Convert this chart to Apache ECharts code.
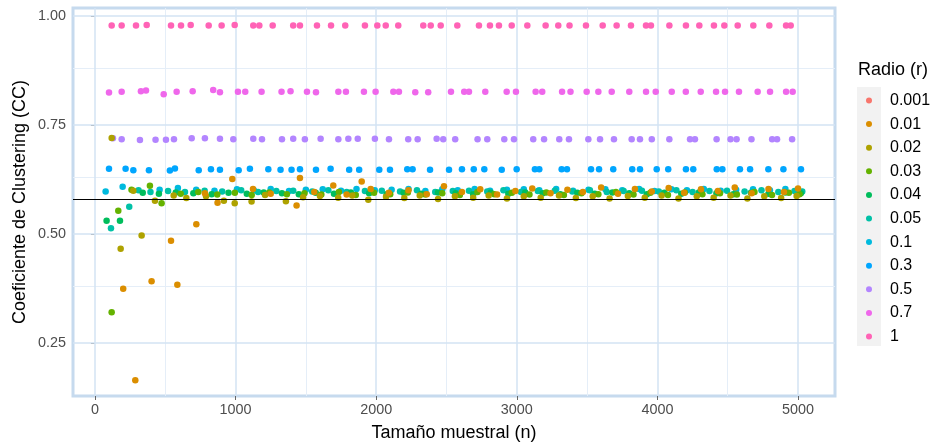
<!DOCTYPE html>
<html>
<head>
<meta charset="utf-8">
<script src="https://cdn.jsdelivr.net/npm/echarts@6/dist/echarts.min.js"></script>
<style>
html,body{margin:0;padding:0;background:#fff;}
#chart{width:935px;height:443px;}
</style>
</head>
<body>
<div id="chart"></div>
<script>
// ---- data ----
var radios = ['0.001','0.01','0.02','0.03','0.04','0.05','0.1','0.3','0.5','0.7','1'];
var colors = ['#F8766D','#DB8E00','#AEA200','#64B200','#00BD5C','#00C1A7','#00BADE','#00A6FF','#B385FF','#EF67EB','#FF63B6'];
var xTicks = [0,1000,2000,3000,4000,5000];
var yTicks = [0.25,0.5,0.75,1.0];
var xMinor = [500,1500,2500,3500,4500];
var yMinor = [0.375,0.625,0.875];
var refLine = 0.585;

var r0001 = [];
var r001 = [[201,0.374],[287,0.164],[403,0.391],[541,0.484],[586,0.383],[721,0.522],[782,0.593],[872,0.571],[977,0.626],[1124,0.603],[1250,0.592],[1434,0.565],[1458,0.628],[1560,0.596],[1695,0.611],[1790,0.590],[1897,0.620],[1961,0.603],[2090,0.594],[2230,0.600],[2360,0.591],[2482,0.609],[2610,0.596],[2740,0.602],[2860,0.590],[2990,0.598],[3110,0.604],[3240,0.593],[3360,0.601],[3470,0.596],[3600,0.606],[3720,0.592],[3840,0.603],[3960,0.597],[4080,0.605],[4190,0.594],[4310,0.602],[4430,0.598],[4550,0.606],[4670,0.593],[4790,0.603],[4900,0.596],[5000,0.604]];
var r002 = [[119,0.720],[183,0.466],[273,0.599],[332,0.496],[427,0.576],[560,0.588],[650,0.582],[790,0.586],[917,0.576],[994,0.570],[1114,0.574],[1210,0.589],[1358,0.575],[1480,0.584],[1600,0.587],[1730,0.583],[1830,0.588],[1944,0.578],[2070,0.585],[2200,0.582],[2310,0.588],[2440,0.580],[2560,0.586],[2690,0.583],[2800,0.588],[2930,0.581],[3050,0.586],[3170,0.583],[3300,0.588],[3420,0.582],[3540,0.586],[3660,0.581],[3790,0.587],[3910,0.583],[4030,0.588],[4150,0.581],[4280,0.586],[4400,0.583],[4520,0.588],[4640,0.581],[4760,0.586],[4880,0.582],[4990,0.587]];
var r003 = [[119,0.320],[166,0.553],[260,0.601],[391,0.610],[474,0.570],[610,0.592],[735,0.596],[870,0.590],[995,0.594],[1115,0.589],[1240,0.595],[1365,0.591],[1490,0.593],[1610,0.590],[1735,0.596],[1855,0.589],[1985,0.594],[2100,0.591],[2225,0.595],[2350,0.590],[2470,0.593],[2595,0.589],[2720,0.596],[2840,0.591],[2965,0.594],[3090,0.590],[3210,0.595],[3335,0.589],[3460,0.593],[3580,0.591],[3705,0.596],[3830,0.590],[3950,0.594],[4075,0.589],[4195,0.595],[4320,0.591],[4445,0.593],[4565,0.590],[4690,0.596],[4815,0.589],[4935,0.594],[5010,0.591]];
var r004 = [[83,0.530],[178,0.530],[340,0.594],[455,0.592],[575,0.595],[700,0.593],[830,0.591],[950,0.594],[1080,0.592],[1200,0.595],[1330,0.593],[1450,0.591],[1570,0.594],[1700,0.592],[1820,0.595],[1950,0.593],[2075,0.591],[2195,0.594],[2320,0.592],[2440,0.595],[2565,0.593],[2690,0.591],[2815,0.594],[2940,0.592],[3060,0.595],[3185,0.593],[3310,0.591],[3430,0.594],[3555,0.592],[3680,0.595],[3800,0.593],[3925,0.591],[4050,0.594],[4170,0.592],[4295,0.595],[4420,0.593],[4540,0.591],[4665,0.594],[4790,0.592],[4910,0.595],[5020,0.593]];
var r005 = [[114,0.513],[244,0.562],[310,0.600],[395,0.596],[520,0.598],[640,0.596],[780,0.599],[905,0.597],[1040,0.600],[1160,0.596],[1290,0.598],[1410,0.599],[1545,0.597],[1660,0.600],[1790,0.596],[1920,0.598],[2040,0.599],[2170,0.597],[2290,0.600],[2420,0.596],[2545,0.598],[2660,0.599],[2790,0.597],[2905,0.600],[3030,0.596],[3150,0.598],[3270,0.599],[3395,0.597],[3520,0.600],[3640,0.596],[3760,0.598],[3890,0.599],[4010,0.597],[4135,0.600],[4250,0.596],[4370,0.598],[4495,0.599],[4620,0.597],[4740,0.600],[4860,0.596],[4975,0.598],[5030,0.597]];
var r01 = [[76,0.597],[197,0.608],[460,0.601],[590,0.605],[720,0.601],[850,0.599],[1010,0.602],[1130,0.600],[1250,0.603],[1380,0.598],[1500,0.601],[1620,0.602],[1750,0.599],[1860,0.603],[1990,0.600],[2110,0.601],[2230,0.603],[2350,0.598],[2470,0.602],[2580,0.600],[2700,0.603],[2810,0.599],[2930,0.601],[3050,0.602],[3160,0.600],[3280,0.603],[3400,0.599],[3510,0.601],[3630,0.602],[3750,0.600],[3870,0.603],[3980,0.598],[4100,0.602],[4210,0.600],[4330,0.603],[4450,0.599],[4560,0.601],[4680,0.602],[4800,0.600],[4910,0.603],[4990,0.599]];
var r03 = [[100,0.649],[218,0.649],[273,0.646],[384,0.646],[533,0.645],[569,0.650],[738,0.646],[825,0.648],[889,0.647],[1022,0.646],[1102,0.649],[1233,0.648],[1320,0.647],[1398,0.647],[1458,0.648],[1572,0.647],[1676,0.649],[1808,0.647],[1879,0.647],[2022,0.647],[2098,0.647],[2221,0.648],[2259,0.648],[2383,0.647],[2518,0.647],[2610,0.648],[2694,0.648],[2769,0.648],[2893,0.647],[2999,0.648],[3129,0.648],[3160,0.648],[3319,0.648],[3357,0.648],[3528,0.648],[3585,0.648],[3686,0.648],[3821,0.648],[3876,0.648],[3995,0.648],[4077,0.648],[4203,0.648],[4255,0.648],[4422,0.648],[4462,0.648],[4587,0.648],[4659,0.648],[4789,0.648],[4896,0.648],[5021,0.648]];
var r05 = [[128,0.719],[190,0.717],[320,0.715],[431,0.716],[505,0.716],[562,0.717],[688,0.719],[782,0.719],[889,0.718],[984,0.717],[1126,0.718],[1188,0.717],[1330,0.717],[1410,0.718],[1493,0.717],[1605,0.718],[1731,0.717],[1802,0.718],[1869,0.718],[1991,0.718],[2091,0.717],[2228,0.717],[2295,0.717],[2430,0.718],[2477,0.717],[2562,0.717],[2721,0.717],[2790,0.717],[2911,0.717],[2980,0.717],[3117,0.717],[3194,0.717],[3302,0.717],[3371,0.717],[3509,0.717],[3592,0.717],[3691,0.717],[3817,0.717],[3876,0.717],[3960,0.717],[4085,0.717],[4232,0.717],[4267,0.717],[4421,0.717],[4520,0.717],[4563,0.717],[4669,0.717],[4816,0.717],[4851,0.717],[4958,0.717]];
var r07 = [[100,0.824],[190,0.826],[327,0.827],[363,0.829],[489,0.820],[581,0.826],[695,0.827],[841,0.830],[889,0.825],[1017,0.826],[1069,0.826],[1185,0.826],[1327,0.826],[1391,0.827],[1508,0.826],[1572,0.825],[1731,0.826],[1785,0.826],[1913,0.826],[1996,0.826],[2122,0.826],[2162,0.826],[2278,0.825],[2370,0.825],[2532,0.826],[2626,0.826],[2660,0.826],[2776,0.826],[2928,0.826],[2994,0.826],[3134,0.826],[3181,0.826],[3322,0.826],[3382,0.826],[3497,0.826],[3580,0.826],[3675,0.826],[3800,0.826],[3919,0.826],[3988,0.826],[4102,0.826],[4202,0.826],[4308,0.826],[4417,0.826],[4481,0.826],[4580,0.826],[4713,0.826],[4801,0.826],[4915,0.826],[4962,0.826]];
var r1 = [[119,0.978],[190,0.978],[292,0.978],[368,0.979],[541,0.978],[612,0.978],[681,0.979],[809,0.978],[901,0.978],[994,0.979],[1126,0.978],[1169,0.978],[1264,0.978],[1410,0.978],[1458,0.978],[1579,0.978],[1679,0.978],[1780,0.978],[1920,0.978],[2008,0.978],[2068,0.978],[2157,0.978],[2335,0.978],[2388,0.978],[2459,0.978],[2577,0.978],[2731,0.978],[2809,0.978],[2873,0.978],[2964,0.978],[3075,0.978],[3205,0.978],[3295,0.978],[3375,0.978],[3492,0.978],[3611,0.978],[3710,0.978],[3812,0.978],[3919,0.978],[3954,0.978],[4085,0.978],[4203,0.978],[4298,0.978],[4402,0.978],[4476,0.978],[4571,0.978],[4682,0.978],[4796,0.978],[4915,0.978],[4948,0.978]];

var seriesData = [r0001, r001, r002, r003, r004, r005, r01, r03, r05, r07, r1];

var FONT = 'Liberation Sans, Arial, sans-serif';

var chart = echarts.init(document.getElementById('chart'), null, {renderer: 'canvas'});

var series = [];
// gridlines (data-driven via markLine, drawn beneath points)
var gridLines = [];
xMinor.forEach(function (v) { gridLines.push({xAxis: v, lineStyle: {color: '#E5EEF8', width: 1, type: 'solid'}}); });
yMinor.forEach(function (v) { gridLines.push({yAxis: v, lineStyle: {color: '#E5EEF8', width: 1, type: 'solid'}}); });
xTicks.forEach(function (v) { gridLines.push({xAxis: v, lineStyle: {color: '#D3E3F3', width: 1.5, type: 'solid'}}); });
yTicks.forEach(function (v) { gridLines.push({yAxis: v, lineStyle: {color: '#D3E3F3', width: 1.5, type: 'solid'}}); });
series.push({
  name: '_grid', type: 'scatter', data: [[0, 0.5]], symbolSize: 0, silent: true, z: 1,
  itemStyle: {opacity: 0},
  markLine: {silent: true, z: 1, symbol: 'none', label: {show: false}, animation: false, data: gridLines}
});

[10, 9, 8, 7, 6, 5, 4, 3, 2, 1, 0].forEach(function (i) {
  series.push({
    name: radios[i], type: 'scatter', data: seriesData[i], symbol: 'circle', symbolSize: 6.5,
    itemStyle: {color: colors[i], opacity: 1}, z: 3, animation: false
  });
});

series.push({
  name: '_ref', type: 'scatter', data: [[0, refLine]], symbolSize: 0, silent: true, z: 6,
  itemStyle: {opacity: 0},
  markLine: {silent: true, z: 6, symbol: 'none', label: {show: false}, animation: false,
    data: [{yAxis: refLine}], lineStyle: {color: '#000', width: 1.2, type: 'solid'}}
});

var option = {
  backgroundColor: '#fff',
  animation: false,
  title: {
    text: 'Radio (r)', left: 858, top: 61, padding: 0,
    textStyle: {fontFamily: FONT, fontSize: 18, fontWeight: 'normal', color: '#000'}
  },
  graphic: [{
    type: 'rect', left: 857, top: 87, shape: {width: 24, height: 259},
    style: {fill: '#F2F2F2'}, z: 0, silent: true
  }],
  legend: {
    data: radios, orient: 'vertical', left: 866, top: 92.5, padding: 0,
    itemWidth: 6, itemHeight: 6, itemGap: 7.6, icon: 'circle',
    textStyle: {fontFamily: FONT, fontSize: 16, lineHeight: 16, color: '#000', padding: [0, 0, 0, 13]},
    selectedMode: false
  },
  grid: {
    left: 73, right: 100, top: 8, bottom: 47, show: true, outerBoundsMode: 'none', containLabel: false,
    borderColor: '#C6DAEE', borderWidth: 3, backgroundColor: '#fff'
  },
  xAxis: {
    type: 'value', min: -156, max: 5263,
    name: 'Tamaño muestral (n)', nameLocation: 'middle', nameGap: 28,
    nameTextStyle: {fontFamily: FONT, fontSize: 18, color: '#000'},
    axisLine: {show: false},
    axisTick: {show: true, customValues: xTicks, length: 4, lineStyle: {color: '#666'}},
    axisLabel: {customValues: xTicks, fontFamily: FONT, fontSize: 14.4, color: '#4D4D4D', margin: 7,
      formatter: function (v) { return String(v); }},
    splitLine: {show: false}
  },
  yAxis: {
    type: 'value', min: 0.128, max: 1.018,
    name: 'Coeficiente de Clustering (CC)', nameLocation: 'middle', nameGap: 44, nameMoveOverlap: false,
    nameTextStyle: {fontFamily: FONT, fontSize: 18, color: '#000'},
    axisLine: {show: false},
    axisTick: {show: true, customValues: yTicks, length: 4, lineStyle: {color: '#666'}},
    axisLabel: {customValues: yTicks, fontFamily: FONT, fontSize: 14.4, color: '#4D4D4D', margin: 7,
      formatter: function (v) { return v.toFixed(2); }},
    splitLine: {show: false}
  },
  series: series
};
chart.setOption(option);
</script>
</body>
</html>
